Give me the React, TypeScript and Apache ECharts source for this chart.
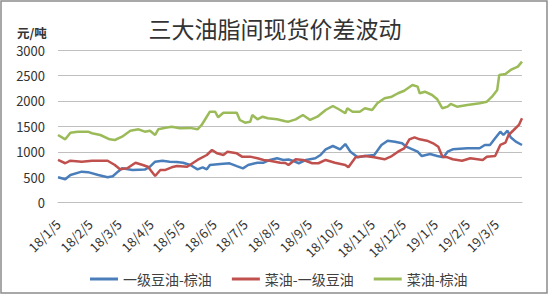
import React, { useEffect, useRef } from "react";
import * as echarts from "echarts";

const title = "三大油脂间现货价差波动";
const unitLabel = "元/吨";
const seriesNames = ["一级豆油-棕油", "菜油-一级豆油", "菜油-棕油"];
const startDate = "2018-01-05";
const endDate = "2019-03-30";
const yTicks = { min: 0, max: 3000, interval: 500 };

const soyPalm: [string, number][] = [
  ["2018-01-05", 500], ["2018-01-12", 460], ["2018-01-17", 545], ["2018-01-28", 610],
  ["2018-02-03", 600], ["2018-02-13", 545], ["2018-02-22", 500], ["2018-02-27", 520],
  ["2018-03-04", 610], ["2018-03-08", 675], ["2018-03-18", 643], ["2018-03-30", 650],
  ["2018-04-04", 707], ["2018-04-09", 806], ["2018-04-16", 825], ["2018-04-23", 806],
  ["2018-04-30", 800], ["2018-05-06", 786], ["2018-05-13", 740], ["2018-05-20", 656],
  ["2018-05-25", 695], ["2018-05-29", 656], ["2018-06-01", 740], ["2018-06-11", 760],
  ["2018-06-20", 773], ["2018-06-27", 720], ["2018-07-03", 675], ["2018-07-08", 740],
  ["2018-07-17", 786], ["2018-07-23", 786], ["2018-07-29", 840], ["2018-08-05", 872],
  ["2018-08-11", 840], ["2018-08-16", 850], ["2018-08-20", 825], ["2018-08-26", 775],
  ["2018-09-02", 840], ["2018-09-11", 872], ["2018-09-16", 937], ["2018-09-21", 1049],
  ["2018-09-28", 1114], ["2018-10-05", 1049], ["2018-10-10", 1153], ["2018-10-15", 1002],
  ["2018-10-22", 892], ["2018-10-29", 917], ["2018-11-07", 937], ["2018-11-14", 1134],
  ["2018-11-20", 1218], ["2018-11-27", 1198], ["2018-12-04", 1167], ["2018-12-08", 1100],
  ["2018-12-14", 1049], ["2018-12-19", 1002], ["2018-12-23", 917], ["2018-12-31", 957],
  ["2019-01-07", 917], ["2019-01-13", 892], ["2019-01-17", 1002], ["2019-01-22", 1049],
  ["2019-02-05", 1069], ["2019-02-17", 1069], ["2019-02-22", 1134], ["2019-02-27", 1134],
  ["2019-03-04", 1265], ["2019-03-09", 1395], ["2019-03-12", 1330], ["2019-03-16", 1415],
  ["2019-03-19", 1285], ["2019-03-24", 1199], ["2019-03-30", 1134],
];

const rapeSoy: [string, number][] = [
  ["2018-01-05", 840], ["2018-01-12", 775], ["2018-01-17", 825], ["2018-01-28", 806],
  ["2018-02-07", 825], ["2018-02-22", 825], ["2018-03-01", 740], ["2018-03-06", 656],
  ["2018-03-13", 675], ["2018-03-21", 786], ["2018-03-28", 740], ["2018-04-02", 707],
  ["2018-04-09", 525], ["2018-04-14", 643], ["2018-04-19", 643], ["2018-04-25", 695],
  ["2018-04-30", 720], ["2018-05-10", 707], ["2018-05-20", 840], ["2018-05-29", 937],
  ["2018-06-03", 1035], ["2018-06-08", 970], ["2018-06-14", 937], ["2018-06-18", 1002],
  ["2018-06-27", 970], ["2018-07-02", 905], ["2018-07-10", 905], ["2018-07-17", 872],
  ["2018-07-23", 840], ["2018-07-29", 825], ["2018-08-08", 786], ["2018-08-13", 780],
  ["2018-08-16", 740], ["2018-08-23", 853], ["2018-08-30", 840], ["2018-09-08", 775],
  ["2018-09-14", 775], ["2018-09-21", 840], ["2018-09-30", 786], ["2018-10-10", 740],
  ["2018-10-13", 695], ["2018-10-20", 892], ["2018-10-29", 917], ["2018-11-07", 892],
  ["2018-11-17", 853], ["2018-11-24", 917], ["2018-11-30", 1002], ["2018-12-06", 1069],
  ["2018-12-11", 1245], ["2018-12-16", 1285], ["2018-12-21", 1245], ["2018-12-28", 1218],
  ["2019-01-03", 1167], ["2019-01-08", 1100], ["2019-01-12", 904], ["2019-01-17", 892],
  ["2019-01-22", 853], ["2019-01-31", 825], ["2019-02-08", 872], ["2019-02-20", 840],
  ["2019-02-24", 904], ["2019-03-04", 917], ["2019-03-09", 1134], ["2019-03-14", 1180],
  ["2019-03-17", 1330], ["2019-03-22", 1428], ["2019-03-27", 1527], ["2019-03-30", 1658],
];

const rapePalm: [string, number][] = [
  ["2018-01-05", 1330], ["2018-01-12", 1245], ["2018-01-17", 1375], ["2018-01-24", 1395],
  ["2018-02-03", 1395], ["2018-02-07", 1364], ["2018-02-15", 1330], ["2018-02-24", 1245],
  ["2018-03-01", 1232], ["2018-03-08", 1297], ["2018-03-16", 1415], ["2018-03-24", 1442],
  ["2018-03-30", 1395], ["2018-04-04", 1415], ["2018-04-09", 1330], ["2018-04-12", 1442],
  ["2018-04-19", 1474], ["2018-04-25", 1494], ["2018-05-03", 1462], ["2018-05-13", 1470],
  ["2018-05-20", 1442], ["2018-05-24", 1527], ["2018-05-27", 1625], ["2018-06-01", 1788],
  ["2018-06-06", 1788], ["2018-06-09", 1678], ["2018-06-14", 1768], ["2018-06-27", 1768],
  ["2018-06-30", 1625], ["2018-07-05", 1572], ["2018-07-10", 1590], ["2018-07-12", 1723],
  ["2018-07-17", 1638], ["2018-07-22", 1690], ["2018-07-27", 1660], ["2018-08-05", 1638],
  ["2018-08-13", 1600], ["2018-08-16", 1592], ["2018-08-23", 1638], ["2018-08-30", 1723],
  ["2018-09-06", 1625], ["2018-09-13", 1690], ["2018-09-21", 1821], ["2018-09-28", 1900],
  ["2018-10-05", 1821], ["2018-10-10", 1757], ["2018-10-12", 1855], ["2018-10-17", 1788],
  ["2018-10-24", 1788], ["2018-10-29", 1855], ["2018-11-05", 1821], ["2018-11-10", 1953],
  ["2018-11-17", 2051], ["2018-11-24", 2083], ["2018-11-30", 2150], ["2018-12-06", 2200],
  ["2018-12-14", 2313], ["2018-12-19", 2280], ["2018-12-21", 2150], ["2018-12-26", 2181],
  ["2019-01-02", 2116], ["2019-01-07", 2032], ["2019-01-12", 1855], ["2019-01-17", 1887],
  ["2019-01-20", 1940], ["2019-01-26", 1887], ["2019-02-05", 1920], ["2019-02-17", 1953],
  ["2019-02-24", 1985], ["2019-03-01", 2083], ["2019-03-06", 2215], ["2019-03-08", 2510],
  ["2019-03-14", 2529], ["2019-03-19", 2608], ["2019-03-26", 2673], ["2019-03-30", 2771],
];

const colors = ["#4a7ebb", "#c0504d", "#9bbb59"];
const FONT = "'Noto Sans CJK SC', 'Noto Sans', sans-serif";

function buildDays(start: string, end: string): string[] {
  const out: string[] = [];
  const d = new Date(start + "T00:00:00Z");
  const e = new Date(end + "T00:00:00Z");
  while (d.getTime() <= e.getTime()) {
    out.push(d.toISOString().slice(0, 10));
    d.setUTCDate(d.getUTCDate() + 1);
  }
  return out;
}

export default function App() {
  const ref = useRef<HTMLDivElement>(null);
  useEffect(() => {
    document.body.style.margin = "0";
    if (!ref.current) return;
    const chart = echarts.init(ref.current, undefined, { renderer: "svg" });
    const days = buildDays(startDate, endDate);
    const datas = [soyPalm, rapeSoy, rapePalm];
    chart.setOption({
      animation: false,
      backgroundColor: "#ffffff",
      textStyle: { fontFamily: FONT },
      title: {
        text: title,
        left: 270,
        textAlign: "center",
        top: 11,
        textStyle: { fontSize: 23, fontWeight: "normal", color: "#333", fontFamily: FONT },
      },
      graphic: [
        {
          type: "rect",
          shape: { x: 1, y: 1, width: 546, height: 292 },
          style: { fill: "none", stroke: "#8c8c8c", lineWidth: 1.5 },
          silent: true,
        },
        {
          type: "text",
          left: 17,
          top: 25,
          style: { text: unitLabel, fontSize: 12.5, lineHeight: 14, fontWeight: "bold", fill: "#333", fontFamily: FONT },
        },
      ],
      legend: {
        left: 85,
        top: 267,
        icon: "rect",
        itemWidth: 28,
        itemHeight: 3,
        itemGap: 20,
        textStyle: { fontSize: 14, color: "#404040", fontFamily: FONT },
        data: seriesNames,
      },
      grid: { left: 58, right: 28, top: 50, bottom: 92.3, containLabel: false },
      xAxis: {
        type: "category",
        data: days,
        boundaryGap: false,
        axisTick: { show: false },
        axisLine: { show: true, lineStyle: { color: "#bfbfbf", width: 1 } },
        axisLabel: {
          rotate: 45,
          margin: 19,
          fontSize: 13,
          color: "#333",
          fontFamily: FONT,
          interval: (_i: number, v: string) => v.slice(8, 10) === "05",
          formatter: (v: string) => {
            const [y, m, d] = v.split("-");
            return `${y.slice(2)}/${parseInt(m, 10)}/${parseInt(d, 10)}`;
          },
        },
        splitLine: { show: false },
      },
      yAxis: {
        type: "value",
        min: yTicks.min,
        max: yTicks.max,
        interval: yTicks.interval,
        axisLine: { show: false },
        axisTick: { show: false },
        axisLabel: {
          fontSize: 13,
          lineHeight: 13,
          color: "#333",
          margin: 13,
          fontFamily: FONT,
          formatter: (v: number) => String(v),
        },
        splitLine: { lineStyle: { color: "#bfbfbf", width: 1 } },
      },
      series: seriesNames.map((name, i) => ({
        name,
        type: "line",
        data: datas[i],
        symbol: "none",
        showSymbol: false,
        lineStyle: { width: 2.5, color: colors[i] },
        itemStyle: { color: colors[i] },
      })),
    });
    return () => chart.dispose();
  }, []);
  return <div ref={ref} style={{ width: 550, height: 295 }} />;
}
